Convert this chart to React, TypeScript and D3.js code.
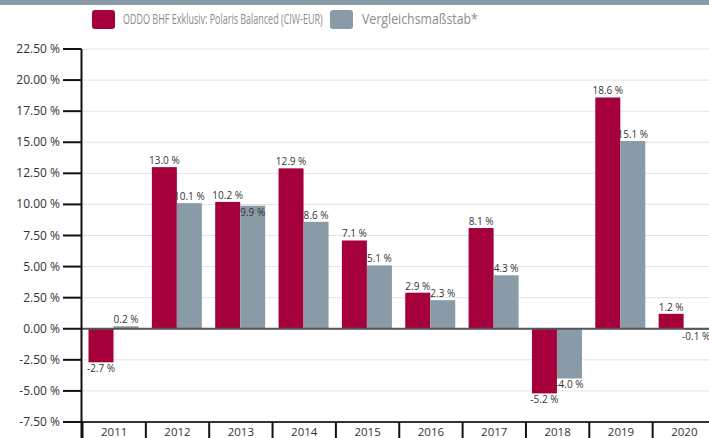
import React, { useLayoutEffect, useRef, useState } from "react";
import * as d3 from "d3";

const years = ["2011", "2012", "2013", "2014", "2015", "2016", "2017", "2018", "2019", "2020"];
const fundValues = [-2.7, 13.0, 10.2, 12.9, 7.1, 2.9, 8.1, -5.2, 18.6, 1.2];
const benchValues = [0.2, 10.1, 9.9, 8.6, 5.1, 2.3, 4.3, -4.0, 15.1, -0.1];
const yTicks = [-7.5, -5, -2.5, 0, 2.5, 5, 7.5, 10, 12.5, 15, 17.5, 20, 22.5];
const seriesNames = ["ODDO BHF Exklusiv: Polaris Balanced (CIW-EUR)", "Vergleichsmaßstab*"];
const seriesKeys = ["fund", "bench"];
const colors = ["#A5003B", "#8A9BA8"];

const W = 709;
const H = 438;
const FONT = "'Open Sans', 'DejaVu Sans', sans-serif";
const LEGEND_FONT = "'Liberation Sans Narrow', 'Open Sans', sans-serif";
const locale = d3.formatLocale({ decimal: ".", thousands: ",", grouping: [3], currency: ["", ""], minus: "-" });

function FitText({ x, y, width, text }: { x: number; y: number; width: number; text: string }) {
  const ref = useRef<SVGTextElement>(null);
  const [sx, setSx] = useState(1);
  useLayoutEffect(() => {
    if (ref.current) {
      const len = ref.current.getComputedTextLength();
      if (len > 0) setSx(width / len);
    }
  }, [width, text]);
  return (
    <text
      ref={ref}
      transform={`translate(${x},${y}) scale(${sx},1)`}
      fontSize={14}
      fill="#8c8c8c"
      fontFamily={LEGEND_FONT}
    >
      {text}
    </text>
  );
}

export default function App() {
  const y = d3.scaleLinear().domain([-7.5, 22.5]).range([422, 49]);
  const x0 = d3.scaleBand<string>().domain(years).range([82.5, 716]).padding(0);
  const x1 = d3.scaleBand<string>().domain(seriesKeys).range([6, 56]).padding(0);
  const fmtTick = (v: number) => locale.format(".2f")(v) + " %";
  const fmtVal = (v: number) => locale.format(".1f")(v) + " %";
  const labelW = (s: string) => s.length * 4.7;

  const bars: any[] = [];
  const labels: any[] = [];
  years.forEach((yr, i) => {
    const vals = [fundValues[i], benchValues[i]];
    let redLabel: any = null;
    vals.forEach((v, s) => {
      const bx = (x0(yr) as number) + (x1(seriesKeys[s]) as number);
      const bw = x1.bandwidth();
      const top = y(Math.max(0, v));
      const bot = y(Math.min(0, v));
      bars.push({ key: yr + s, x: bx, y: top, w: bw, h: Math.max(bot - top, 0.5), fill: colors[s] });
      const text = fmtVal(v);
      const cx = bx + bw / 2;
      let ly = v >= 0 ? top - 3 : bot + 10;
      const lw = labelW(text);
      if (s === 0) {
        redLabel = { x0: cx - lw / 2, x1: cx + lw / 2, y: ly };
      } else if (redLabel && v >= 0) {
        const overlapX = cx - lw / 2 < redLabel.x1 && cx + lw / 2 > redLabel.x0;
        const overlapY = Math.abs(ly - redLabel.y) < 13;
        if (overlapX && overlapY) ly = redLabel.y + 17;
      }
      labels.push({ key: "l" + yr + s, x: cx, y: ly, text });
    });
  });

  const xStart = 81.5;
  return (
    <svg
      width={W}
      height={H}
      style={{ position: "absolute", left: 0, top: 0, background: "#fff" }}
      fontFamily={FONT}
    >
      <rect x={0} y={0} width={W} height={5} fill="#8A9BA8" />
      {/* legend */}
      <rect x={92} y={10} width={23} height={19} rx={3} fill={colors[0]} />
      <FitText x={123} y={24} width={200} text={seriesNames[0]} />
      <rect x={330} y={10} width={23} height={19} rx={3} fill={colors[1]} />
      <FitText x={362} y={24} width={116} text={seriesNames[1]} />

      {/* grid */}
      {yTicks.map((t) => (
        <line key={"g" + t} x1={xStart} x2={W} y1={y(t)} y2={y(t)} stroke="#e3e3e3" strokeWidth={1} />
      ))}

      {/* bars */}
      {bars.map((b) => (
        <rect key={b.key} x={b.x} y={b.y} width={b.w} height={b.h} fill={b.fill} />
      ))}

      {/* zero line */}
      <line x1={xStart} x2={W} y1={y(0)} y2={y(0)} stroke="#555" strokeWidth={2} />

      {/* bottom axis */}
      <line x1={xStart} x2={W} y1={y(-7.5)} y2={y(-7.5)} stroke="#333" strokeWidth={2} />
      {years.map((yr) => (
        <line
          key={"d" + yr}
          x1={x0(yr) as number}
          x2={x0(yr) as number}
          y1={y(-7.5)}
          y2={H}
          stroke="#111"
          strokeWidth={2}
        />
      ))}
      {years.map((yr) => (
        <text
          key={"y" + yr}
          x={(x0(yr) as number) + x0.bandwidth() / 2}
          y={436}
          fontSize={11.5}
          fill="#333"
          textAnchor="middle"
        >
          {yr}
        </text>
      ))}

      {/* y axis */}
      <line x1={xStart} x2={xStart} y1={y(22.5)} y2={H} stroke="#111" strokeWidth={2} />
      {yTicks.map((t) => (
        <g key={"t" + t}>
          <line x1={63} x2={xStart} y1={y(t)} y2={y(t)} stroke="#111" strokeWidth={2} />
          <text x={60} y={y(t) + 4} fontSize={12} fill="#333" textAnchor="end">
            {fmtTick(t)}
          </text>
        </g>
      ))}

      {/* data labels */}
      {labels.map((l) => (
        <text key={l.key} x={l.x} y={l.y} fontSize={10} fill="#333" textAnchor="middle">
          {l.text}
        </text>
      ))}
    </svg>
  );
}
